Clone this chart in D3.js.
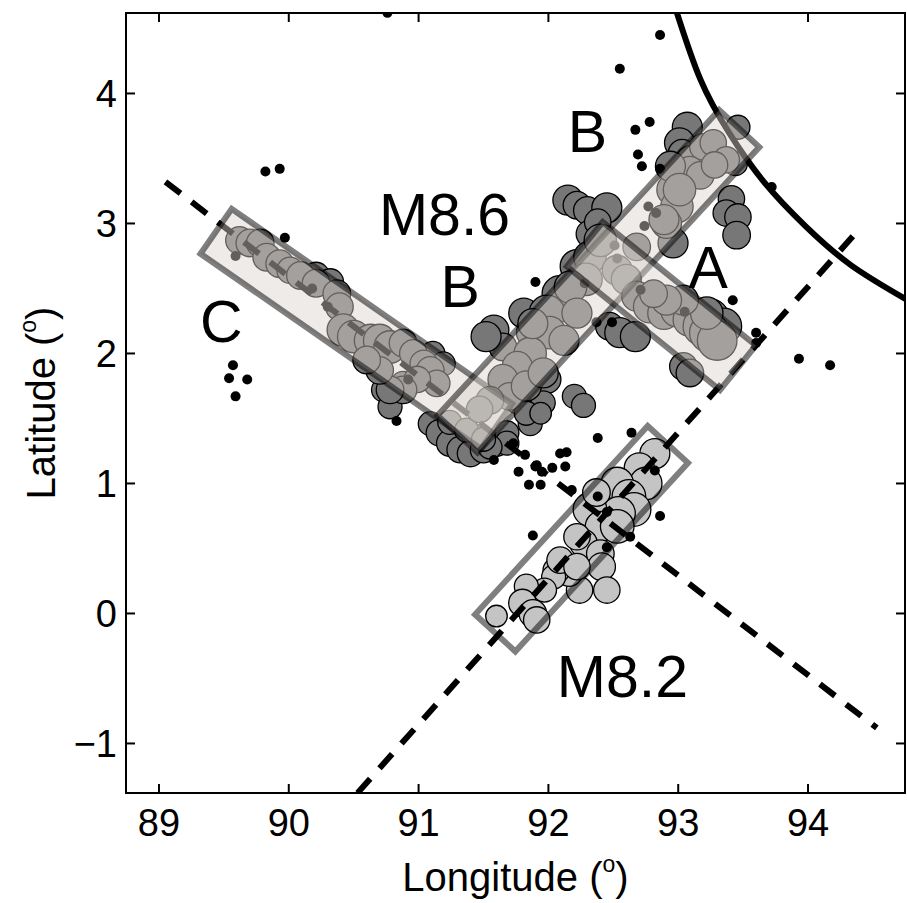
<!DOCTYPE html>
<meta charset="utf-8">
<head>
  <title>Aftershock map</title>
  <style>body { margin: 0; background: #fff; }</style>
</head>
<body>
<script src="https://cdnjs.cloudflare.com/ajax/libs/d3/7.8.5/d3.min.js"></script>
<script>

const lonTicks = [89, 90, 91, 92, 93, 94];
const latTicks = [-1, 0, 1, 2, 3, 4];

// M8.6 aftershocks [lon, lat, mag]
const shocks86 = [
  // B top
  [93.07,3.74,5.5],[93.01,3.62,5.5],[93.03,3.54,5.3],[93.46,3.74,5.0],[93.44,3.46,5.0],
  [93.41,3.19,5.2],[93.37,3.08,5.2],[93.46,3.05,5.2],[93.45,2.91,5.3],[92.96,2.85,5.5],
  [93.09,3.49,5.3],[93.19,3.59,5.2],[93.27,3.62,5.2],[93.37,3.49,5.2],[93.09,3.41,5.3],
  [92.96,3.26,5.7],[92.99,3.13,5.7],[92.91,3.00,5.5],[93.17,3.37,5.3],[93.28,3.45,5.2],
  [92.94,3.44,5.5],[93.01,3.26,5.7],
  // left of B
  [92.15,3.18,5.5],[92.22,3.14,5.3],[92.30,3.10,5.3],[92.45,3.12,5.5],[92.32,2.92,5.3],[92.38,3.01,5.2],
  // lower B
  [91.58,2.18,5.5],[91.65,2.05,5.3],[91.81,2.31,5.5],[91.86,2.16,5.3],[91.99,1.80,5.3],
  [91.96,1.62,5.0],[91.86,1.46,5.0],[92.20,1.67,5.0],[92.27,1.60,5.0],[91.76,1.64,5.2],
  [91.83,1.54,5.0],[91.94,1.54,4.8],[91.52,2.13,5.5],
  // around A
  [92.47,2.21,5.3],[92.55,2.16,5.5],[92.67,2.13,5.5],[93.04,1.90,5.3],[93.09,1.85,5.3],
  [93.25,2.28,6.0],[93.35,2.21,6.0],
  // junction B / C
  [91.09,1.46,5.0],[91.16,1.39,5.2],[91.24,1.31,5.2],[91.32,1.26,5.2],[91.40,1.23,5.2],
  [91.50,1.26,5.2],[91.60,1.31,5.2],[91.68,1.39,5.0],[90.73,1.72,5.0],[90.78,1.59,5.0],
  [90.88,1.77,5.0],[90.99,1.98,5.0],[91.11,2.00,5.0],[91.19,1.92,5.0],[90.21,2.60,5.2],
  [90.32,2.55,5.2],[91.68,1.31,5.0],[91.55,1.28,5.0],
  // C
  [89.62,2.87,5.3],[89.70,2.85,5.3],[89.78,2.85,5.3],[89.83,2.74,5.3],[89.93,2.69,5.3],
  [90.01,2.64,5.2],[90.09,2.60,5.3],[90.21,2.54,5.3],[90.37,2.46,5.3],[90.39,2.36,5.3],
  [90.42,2.18,5.7],[90.50,2.13,5.7],[90.63,2.10,5.7],[90.70,2.10,5.7],[90.78,2.05,5.7],
  [90.88,2.08,5.3],[90.96,2.00,5.3],[91.04,1.92,5.3],[91.09,1.87,5.3],[91.14,1.77,5.2],
  [90.99,1.80,5.2],[90.88,1.72,5.3],[90.78,1.72,5.3],[90.70,1.87,5.3],[90.60,1.95,5.3],
  [91.24,1.47,5.0],[91.37,1.41,5.0],[91.50,1.34,5.0],
  // B middle
  [92.09,2.46,6.0],[91.99,2.31,6.0],[92.22,2.67,5.8],[92.32,2.74,5.7],[92.29,2.57,5.7],
  [92.17,2.51,5.7],[92.01,2.16,5.7],[91.86,2.00,5.7],[91.76,1.90,5.5],[91.65,1.80,5.5],
  [91.70,1.67,5.3],[91.83,1.75,5.5],[91.96,1.85,5.5],[92.12,2.10,5.5],[91.88,2.23,5.5],
  [92.22,2.31,5.5],[92.53,2.64,5.5],[92.60,2.57,5.5],[92.68,2.82,5.3],[92.89,3.03,5.5],
  [92.40,2.87,5.7],[91.55,1.64,5.3],[91.47,1.57,5.2],
  // A
  [92.68,2.44,5.5],[92.78,2.36,5.7],[92.89,2.31,5.7],[92.99,2.33,5.7],[93.09,2.26,5.8],
  [93.19,2.21,6.3],[93.24,2.16,6.3],[93.30,2.10,6.3],[93.22,2.31,5.7],[93.04,2.41,5.5],
  [92.91,2.41,5.5],[92.81,2.46,5.3]
];

// M8.2 aftershocks [lon, lat, mag]
const shocks82 = [
  [92.82,1.23,5.5],[92.70,1.12,5.5],[92.75,1.00,5.7],[92.53,1.00,5.7],[92.62,0.90,5.8],
  [92.66,0.80,5.8],[92.54,0.77,5.8],[92.32,0.80,5.8],[92.40,0.67,5.5],[92.53,0.67,5.8],
  [92.27,0.54,5.3],[92.22,0.59,5.2],[92.40,0.46,5.3],[92.41,0.36,5.3],[92.45,0.18,5.2],
  [92.24,0.18,5.2],[92.16,0.31,5.2],[92.06,0.33,5.2],[92.04,0.28,5.0],[91.97,0.18,5.0],
  [91.83,0.21,5.0],[91.80,0.08,5.3],[91.88,0.00,5.3],[91.91,-0.05,5.2],[91.60,-0.02,4.8],
  [92.09,0.41,5.2],[92.22,0.36,5.2],[92.37,0.93,5.3]
];

// small events [lon, lat]
const smallEvents = [
  [90.76,4.62],[89.82,3.40],[89.93,3.42],[89.97,2.89],[91.90,2.55],[89.57,1.91],[89.54,1.81],
  [89.68,1.80],[89.59,1.67],[90.83,1.48],[91.58,1.18],[91.73,1.31],[91.82,1.22],[91.91,1.14],
  [92.78,3.78],[92.67,3.72],[92.69,3.53],[92.72,3.44],[92.86,3.42],[93.72,3.28],[92.86,4.45],
  [92.55,4.19],[93.42,2.41],[92.37,2.24],[92.49,2.24],[93.60,2.16],[93.60,2.08],[93.93,1.96],
  [94.17,1.91],[92.38,1.35],[92.64,1.39],[92.09,1.23],[92.14,1.24],[92.13,1.13],[91.77,1.09],
  [91.90,1.13],[91.95,1.09],[92.03,1.12],[91.85,0.99],[91.94,0.99],[91.88,0.60],[92.18,0.95],
  [92.82,1.10],[92.86,0.75],[92.63,0.59],[92.45,0.51],[92.38,0.90],[92.45,0.78],
  [89.59,2.75],[90.18,2.50],[90.30,2.36],[90.92,1.80],[92.77,3.13],[92.83,3.08],[92.74,2.98],
  [92.28,2.54],[92.71,2.49],[93.05,2.32],[92.51,2.83],[92.53,2.73]
];

const trench = [[92.99,4.62],[93.17,4.11],[93.39,3.70],[93.66,3.32],[93.98,2.98],[94.33,2.68],[94.75,2.42]];

const dashLines = [
  [[89.05,3.32],[94.53,-0.88]],
  [[90.53,-1.38],[94.38,2.94]]
];

// fault boxes: centre line ends and half width (deg)
const boxes = [
  { from: [89.44,2.94], to: [91.60,1.44], hw: 0.21, filled: true },
  { from: [91.30,1.38], to: [93.47,3.73], hw: 0.21, filled: true },
  { from: [92.28,2.84], to: [93.46,1.89], hw: 0.22, filled: true },
  { from: [91.59,-0.15], to: [92.92,1.30], hw: 0.21, filled: false }
];

const labels = [
  { text: "M8.6", lon: 91.20, lat: 2.91 },
  { text: "B", lon: 91.32, lat: 2.36 },
  { text: "B", lon: 92.30, lat: 3.55 },
  { text: "C", lon: 89.48, lat: 2.09 },
  { text: "A", lon: 93.23, lat: 2.50 },
  { text: "M8.2", lon: 92.57, lat: -0.64 }
];

const totalWidth = 907, totalHeight = 903,
      margin = {top: 13, left: 126},
      width = 779, height = 780;
const font = '"Liberation Sans", Arial, Helvetica, sans-serif';

const svg = d3.select("body").append("svg")
    .attr("width", totalWidth)
    .attr("height", totalHeight)
    .style("font-family", font);

const g = svg.append("g")
    .attr("transform", "translate(" + margin.left + "," + margin.top + ")");

const x = d3.scaleLinear().domain([88.746, 94.747]).range([0, width]);
const y = d3.scaleLinear().domain([-1.381, 4.619]).range([height, 0]);
const r = d3.scaleLinear().domain([4.5, 6.5]).range([9, 21]);

g.append("clipPath").attr("id", "clip")
  .append("rect").attr("width", width).attr("height", height);

const plot = g.append("g").attr("clip-path", "url(#clip)");

// aftershocks
plot.append("g").selectAll("circle")
  .data(shocks86).join("circle")
    .attr("cx", d => x(d[0])).attr("cy", d => y(d[1])).attr("r", d => r(d[2]))
    .style("fill", "#777").style("stroke", "#000").style("stroke-width", 1.3);

plot.append("g").selectAll("circle")
  .data(shocks82).join("circle")
    .attr("cx", d => x(d[0])).attr("cy", d => y(d[1])).attr("r", d => r(d[2]))
    .style("fill", "#c4c4c4").style("stroke", "#000").style("stroke-width", 1.3);

// lines
const line = d3.line().x(d => x(d[0])).y(d => y(d[1]));

plot.append("g").selectAll("path")
  .data(dashLines).join("path")
    .attr("d", line)
    .style("fill", "none").style("stroke", "#000")
    .style("stroke-width", 6).style("stroke-dasharray", "19,14");

plot.append("path")
  .attr("d", line.curve(d3.curveNatural)(trench))
  .style("fill", "none").style("stroke", "#000").style("stroke-width", 6);

// small events
plot.append("g").selectAll("circle")
  .data(smallEvents).join("circle")
    .attr("cx", d => x(d[0])).attr("cy", d => y(d[1])).attr("r", 5)
    .style("fill", "#000");

// fault boxes
const pxPerDeg = y(0) - y(1);
function boxCorners(b) {
  const x0 = x(b.from[0]), y0 = y(b.from[1]), x1 = x(b.to[0]), y1 = y(b.to[1]);
  const L = Math.hypot(x1 - x0, y1 - y0);
  const nx = -(y1 - y0) / L * b.hw * pxPerDeg, ny = (x1 - x0) / L * b.hw * pxPerDeg;
  return [[x0 + nx, y0 + ny], [x1 + nx, y1 + ny], [x1 - nx, y1 - ny], [x0 - nx, y0 - ny]];
}

plot.append("g").selectAll("polygon")
  .data(boxes).join("polygon")
    .attr("points", d => boxCorners(d).map(p => p.join(",")).join(" "))
    .style("fill", d => d.filled ? "#d9d3cc" : "none")
    .style("fill-opacity", 0.45)
    .style("stroke", "#000").style("stroke-opacity", 0.5)
    .style("stroke-width", 6).style("stroke-linejoin", "miter");

// labels
g.append("g").selectAll("text")
  .data(labels).join("text")
    .attr("x", d => x(d.lon)).attr("y", d => y(d.lat))
    .attr("text-anchor", "middle")
    .style("font-size", "59px")
    .text(d => d.text);

// frame and inward ticks
const axes = g.append("g").style("stroke", "#000").style("stroke-width", 2);
axes.append("rect").attr("width", width).attr("height", height).style("fill", "none");
const tk = 9;
lonTicks.forEach(t => {
  axes.append("line").attr("x1", x(t)).attr("x2", x(t)).attr("y1", height).attr("y2", height - tk);
  axes.append("line").attr("x1", x(t)).attr("x2", x(t)).attr("y1", 0).attr("y2", tk);
});
latTicks.forEach(t => {
  axes.append("line").attr("y1", y(t)).attr("y2", y(t)).attr("x1", 0).attr("x2", tk);
  axes.append("line").attr("y1", y(t)).attr("y2", y(t)).attr("x1", width).attr("x2", width - tk);
});

g.append("g").selectAll("text")
  .data(lonTicks).join("text")
    .attr("x", d => x(d)).attr("y", height + 43)
    .attr("text-anchor", "middle").style("font-size", "38px")
    .text(d => d);

g.append("g").selectAll("text")
  .data(latTicks).join("text")
    .attr("x", -9).attr("y", d => y(d) + 13.5)
    .attr("text-anchor", "end").style("font-size", "38px")
    .text(d => d < 0 ? "\u2212" + Math.abs(d) : d);

// axis titles
const xt = svg.append("text")
    .attr("x", margin.left + width / 2).attr("y", 891)
    .attr("text-anchor", "middle").style("font-size", "40px");
xt.append("tspan").text("Longitude (");
xt.append("tspan").attr("dy", -19).style("font-size", "23px").text("o");
xt.append("tspan").attr("dy", 19).text(")");

const yt = svg.append("text")
    .attr("transform", "translate(55," + (margin.top + height / 2) + ") rotate(-90)")
    .attr("text-anchor", "middle").style("font-size", "40px");
yt.append("tspan").text("Latitude (");
yt.append("tspan").attr("dy", -19).style("font-size", "23px").text("o");
yt.append("tspan").attr("dy", 19).text(")");

</script>
</body>
</html>
